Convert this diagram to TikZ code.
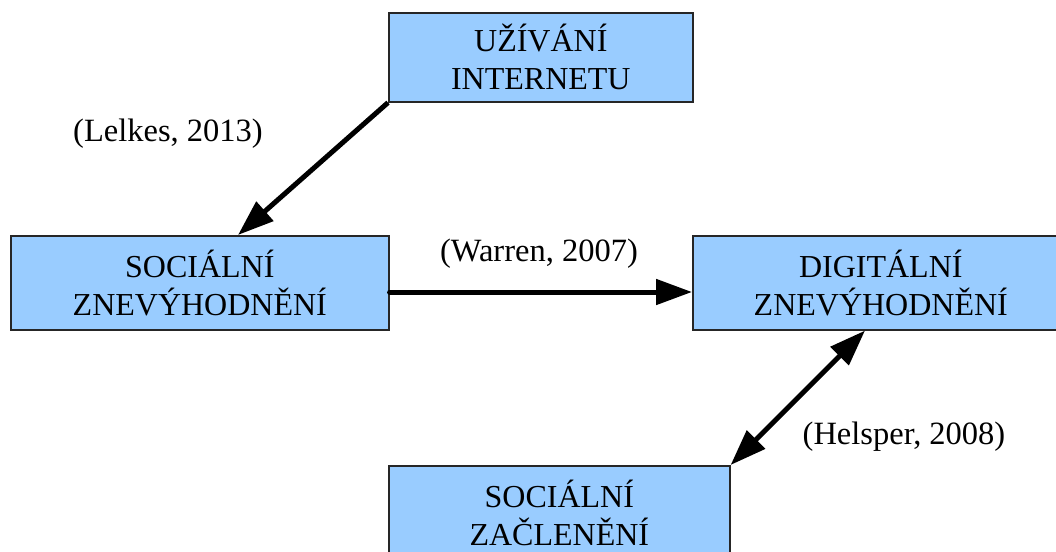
\documentclass[tikz,border=0pt]{standalone}
\usepackage{fontspec}
\setmainfont{Liberation Serif}
\usetikzlibrary{arrows.meta,calc}
\definecolor{boxblue}{RGB}{153,204,255}
\begin{document}
\begin{tikzpicture}[x=1pt,y=-1pt,
  >={Triangle[length=36pt,width=25pt]},
  box/.style={draw=black!85,line width=1.6pt,fill=boxblue,inner sep=0pt,align=center,
    font=\fontsize{32}{38}\selectfont,anchor=north west},
  lbl/.style={font=\fontsize{32.5}{38}\selectfont,inner sep=0pt},
  conn/.style={line width=5pt}]
\useasboundingbox (0,0) rectangle (1056,551);
\clip (0,0) rectangle (1056,551);
\node[box,minimum width=304pt,minimum height=89pt] (ui) at (388,12) {UŽÍVÁNÍ\\INTERNETU};
\node[box,minimum width=378pt,minimum height=94pt] (sz) at (10,235) {SOCIÁLNÍ\\ZNEVÝHODNĚNÍ};
\node[box,minimum width=376pt,minimum height=94pt] (dz) at (692,235) {DIGITÁLNÍ\\ZNEVÝHODNĚNÍ};
\node[box,minimum width=341pt,minimum height=95pt] (sc) at (388,465) {SOCIÁLNÍ\\ZAČLENĚNÍ};
\node[lbl] (l1) at (168,134) {(Lelkes, 2013)};
\node[lbl] (l2) at (539,254) {(Warren, 2007)};
\node[lbl] (l3) at (904,437) {(Helsper, 2008)};
\coordinate (a1) at ($(sz.north west)+(228,0)$);
\draw[conn,->] (ui.south west) -- (a1);
\coordinate (a2s) at ($(sz.north east)+(0,57)$);
\coordinate (a2e) at ($(dz.north west)+(0,57)$);
\draw[conn,line cap=round,->] (a2s) -- (a2e);
\coordinate (a3) at ($(dz.south west)+(173,0)$);
\draw[conn,<->] (a3) -- (sc.north east);
\end{tikzpicture}
\end{document}
